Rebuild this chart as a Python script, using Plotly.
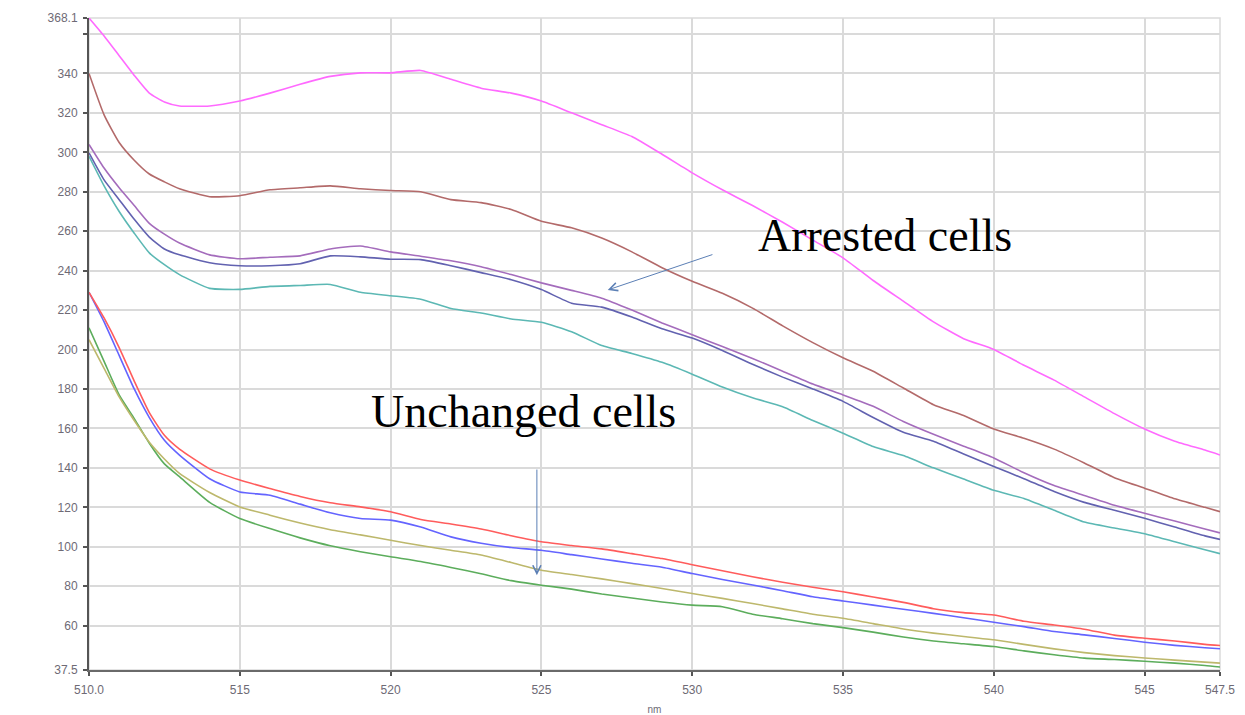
import plotly.graph_objects as go

# wavelength samples (nm)
wavelength = [510, 510.5, 511, 511.5, 512, 512.5, 513] + list(range(514, 548)) + [547.5]

# Arrested cells
magenta = [368.1, 359, 349, 339, 330, 325.5, 323.5, 323.5, 326, 330, 334.5, 338.5, 340.3, 340.3, 341.5, 337,
           332.5, 330, 326, 320, 314, 308, 299, 289.6, 281, 273, 264.5, 255.5, 246.5, 235, 224.5, 214,
           205.5, 200, 192, 184.5, 176, 167.5, 159.7, 153.5, 149, 146.5]
brown = [340, 319, 305, 296, 289, 285, 281.5, 277.5, 278, 281, 282, 283, 281.5, 280.6, 280, 276,
         274.5, 271, 265, 261.7, 256.5, 249.5, 241.5, 234.6, 228.5, 221, 212, 203.5, 195.8, 189, 180.5, 172,
         166.5, 159.7, 155, 149.5, 142.5, 135, 129.7, 124.3, 120, 117.8]
orchid = [304, 292, 282, 273, 264, 258.5, 254, 248, 246, 246.8, 247.5, 251, 252.5, 249.5, 247.3, 245,
          242, 238, 233.8, 230, 226, 220, 213.5, 207.5, 201.5, 195.5, 189, 182.5, 177, 171.2, 163.5, 157,
          151, 145, 137.5, 131, 126, 121, 117, 113, 109, 107]
slate = [299.7, 286, 276, 266, 257, 251, 248, 244, 242.5, 242.5, 243.5, 247.5, 247, 245.8, 245.6, 242.5,
         239, 235.4, 230.4, 223.5, 221.5, 216.5, 210.5, 205.8, 199.5, 192.5, 186, 180, 173.7, 165.5, 158, 153.5,
         147, 140.7, 134.5, 128, 122.5, 118.5, 114.4, 110, 105.5, 103.7]
teal = [298, 283, 270, 259, 249, 243, 238, 231, 230.5, 232, 232.5, 233, 229, 227.3, 225.5, 220.8,
        218.5, 215.5, 213.8, 209, 202, 198, 193.5, 187.5, 181, 175.5, 171, 164, 157.6, 150.8, 146.2, 140,
        134.3, 128.6, 124.5, 118.5, 112.5, 109.5, 106.6, 102.5, 98.5, 96.5]

# Unchanged cells
red = [229, 216, 201, 184, 168, 156.5, 149.5, 139.5, 133.8, 129.5, 125.5, 122.3, 120.2, 117.7, 113.8, 111.5,
       109, 105.6, 102.5, 100.6, 98.9, 96.5, 94, 90.9, 87.8, 84.8, 82, 79.5, 77.2, 74.5, 71.8, 68.6,
       66.6, 65.4, 62.2, 60.3, 58.2, 55.2, 53.6, 52.2, 50.5, 49.9]
blue = [229, 214, 197, 180, 165.5, 154, 146.5, 134.5, 127.8, 126.1, 121.6, 117.2, 114.3, 113.5, 110, 105,
        101.8, 99.6, 98.2, 96, 93.8, 91.6, 89.6, 86.4, 83.4, 80.6, 77.7, 74.6, 72.5, 70.4, 68.3, 66.2,
        64, 61.7, 59.5, 57, 55.3, 53.5, 51.6, 50, 48.8, 48.3]
olive = [205, 190.5, 176, 164, 153, 144.5, 137.2, 127.5, 120.2, 116, 112, 108.6, 106, 103.3, 100.6, 98.2,
         95.8, 92, 88.1, 85.9, 83.7, 81.3, 78.8, 76.3, 73.8, 71.2, 68.5, 65.8, 63.7, 61, 58.3, 56.2,
         54.5, 52.8, 50.5, 48.2, 46.3, 44.8, 43.6, 42.5, 41.5, 41]
green = [211, 194, 177, 165, 152.5, 142, 135.5, 122.5, 114.3, 109.2, 104.5, 100.5, 97.5, 94.9, 92.5, 89.5,
         86.3, 82.8, 80.5, 78.5, 76, 74, 72, 70.4, 69.6, 65.8, 63.5, 61, 59, 56.7, 54.2, 52.2,
         50.8, 49.4, 47.2, 45.2, 43.5, 42.8, 41.9, 41, 39.8, 39]

series = [
    ("green", green, "#5cad5c"),
    ("olive", olive, "#bdb86c"),
    ("blue", blue, "#6464ff"),
    ("red", red, "#ff5c5c"),
    ("teal", teal, "#5cb8b4"),
    ("slate", slate, "#6262b0"),
    ("orchid", orchid, "#a46cbc"),
    ("brown", brown, "#b36a6a"),
    ("magenta", magenta, "#ff6aff"),
]

x_ticks = [510, 515, 520, 525, 530, 535, 540, 545, 547.5]
x_ticktext = ["510.0", "515", "520", "525", "530", "535", "540", "545", "547.5"]
y_ticks = [37.5, 60, 80, 100, 120, 140, 160, 180, 200, 220, 240, 260, 280, 300, 320, 340, 360, 368.1]
y_ticktext = ["37.5", "60", "80", "100", "120", "140", "160", "180", "200", "220", "240", "260",
              "280", "300", "320", "340", "", "368.1"]

fig = go.Figure()
for name, vals, col in series:
    fig.add_trace(go.Scatter(x=wavelength, y=vals, mode="lines", name=name,
                             line=dict(color=col, width=1.6, shape="spline", smoothing=0.5)))

grid = "#dadada"
tickfont = dict(family="Liberation Sans, Arial, sans-serif", size=12, color="#6e6a75")

# page body has an 8px default margin; size the figure to compensate
fig.update_layout(
    width=1237, height=707,
    margin=dict(l=81, r=25, t=10, b=45),
    paper_bgcolor="white", plot_bgcolor="white",
    showlegend=False,
    xaxis=dict(range=[510, 547.5], tickvals=x_ticks, ticktext=x_ticktext, tickfont=tickfont,
               automargin=False, ticklabelstandoff=4,
               showgrid=True, gridcolor=grid, gridwidth=1.5, zeroline=False,
               showline=True, linecolor="#6a6a6a", linewidth=2,
               ticks="outside", ticklen=4, tickcolor="#555", tickwidth=1.5,
               title=dict(text="nm", font=dict(family="Liberation Sans, Arial, sans-serif", size=10, color="#6e6a75"), standoff=12)),
    yaxis=dict(range=[37.5, 368.1], tickvals=y_ticks, ticktext=y_ticktext, tickfont=tickfont,
               automargin=False, ticklabelstandoff=3,
               showgrid=True, gridcolor=grid, gridwidth=1.5, zeroline=False,
               showline=True, linecolor="#555555", linewidth=2,
               ticks="outside", ticklen=4, tickcolor="#555", tickwidth=1.5),
    shapes=[dict(type="rect", xref="paper", yref="paper", x0=0, x1=1, y0=0, y1=1,
                 line=dict(color=grid, width=1.5), layer="below")],
)

serif = dict(family="Liberation Serif, Times New Roman, serif", size=46, color="black")
arrow_col = "#5b7fb5"
fig.add_annotation(x=536.4, y=257.6, xref="x", yref="y", text="Arrested cells",
                   showarrow=False, font=serif, xanchor="center", yanchor="middle")
fig.add_annotation(x=524.4, y=168.8, xref="x", yref="y", text="Unchanged cells",
                   showarrow=False, font=serif, xanchor="center", yanchor="middle")
fig.add_annotation(x=527.2, y=230.2, ax=530.72, ay=248.4, xref="x", yref="y", axref="x", ayref="y",
                   text="", showarrow=True, arrowhead=5, arrowsize=1.6, arrowwidth=1, arrowcolor=arrow_col)
fig.add_annotation(x=524.85, y=85.6, ax=524.85, ay=139.9, xref="x", yref="y", axref="x", ayref="y",
                   text="", showarrow=True, arrowhead=5, arrowsize=1.6, arrowwidth=1, arrowcolor=arrow_col)

fig.write_html("out.html")
